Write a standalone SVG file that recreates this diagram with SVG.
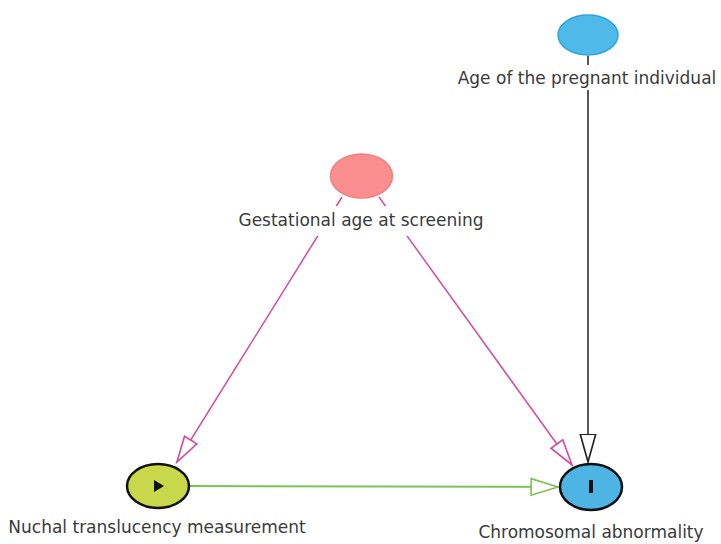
<svg xmlns="http://www.w3.org/2000/svg" width="721" height="544" viewBox="0 0 721 544">
<style>
.lbl{font-family:"DejaVu Sans","Liberation Sans",sans-serif;font-size:17px;fill:#3a3a3a;text-anchor:middle}
.bg{fill:#ffffff}
</style>
<defs>
<marker id="ap" markerUnits="userSpaceOnUse" markerWidth="30" markerHeight="20" viewBox="-27 -9 29 18" refX="0" refY="0" orient="auto">
<path d="M-25,-7 L0,0 L-25,7 Z" fill="#fff" stroke="#d84a9e" stroke-width="1.6"/>
</marker>
<marker id="ak" markerUnits="userSpaceOnUse" markerWidth="30" markerHeight="20" viewBox="-27 -9 29 18" refX="0" refY="0" orient="auto">
<path d="M-27,-7.5 L0,0 L-27,7.5 Z" fill="#fff" stroke="#222" stroke-width="1.6"/>
</marker>
<marker id="ag" markerUnits="userSpaceOnUse" markerWidth="30" markerHeight="20" viewBox="-27 -9 29 18" refX="0" refY="0" orient="auto">
<path d="M-26,-8 L0,0 L-26,8 Z" fill="#fff" stroke="#7cc35a" stroke-width="1.6"/>
</marker>
</defs>
<g id="connectors" fill="none">
<line x1="588" y1="56" x2="588" y2="462" stroke="#222" stroke-width="1.5" marker-end="url(#ak)"/>
<line x1="342" y1="197" x2="177" y2="462" stroke="#d84a9e" stroke-width="1.5" marker-end="url(#ap)"/>
<line x1="379" y1="197" x2="572" y2="465" stroke="#d84a9e" stroke-width="1.5" marker-end="url(#ap)"/>
<line x1="190" y1="486" x2="558" y2="487" stroke="#7cc35a" stroke-width="2" marker-end="url(#ag)"/>
</g>
<g id="age">
<ellipse cx="588" cy="35" rx="30" ry="20" fill="#4fb9ea" stroke="#2fa4da" stroke-width="1.5"/>
<rect class="bg" x="450" y="65" width="271" height="25"/>
<text class="lbl" x="587" y="84">Age of the pregnant individual</text>
</g>
<g id="gestational">
<ellipse cx="361.5" cy="176" rx="31" ry="22" fill="#f98e8e" stroke="#f47f7f" stroke-width="1.5"/>
<rect class="bg" x="230" y="206" width="264" height="30"/>
<text class="lbl" x="361" y="226">Gestational age at screening</text>
</g>
<g id="nuchal">
<ellipse cx="158" cy="486" rx="31" ry="22" fill="#c9d84b" stroke="#111" stroke-width="2.5"/>
<path d="M154,480 L164,486 L154,492 Z" fill="#111"/>
<text class="lbl" x="157" y="533">Nuchal translucency measurement</text>
</g>
<g id="chromosomal">
<ellipse cx="591" cy="487" rx="31" ry="23" fill="#4db4e4" stroke="#111" stroke-width="2.5"/>
<rect x="589" y="480" width="4" height="13" fill="#111"/>
<text class="lbl" x="591" y="538">Chromosomal abnormality</text>
</g>
</svg>
